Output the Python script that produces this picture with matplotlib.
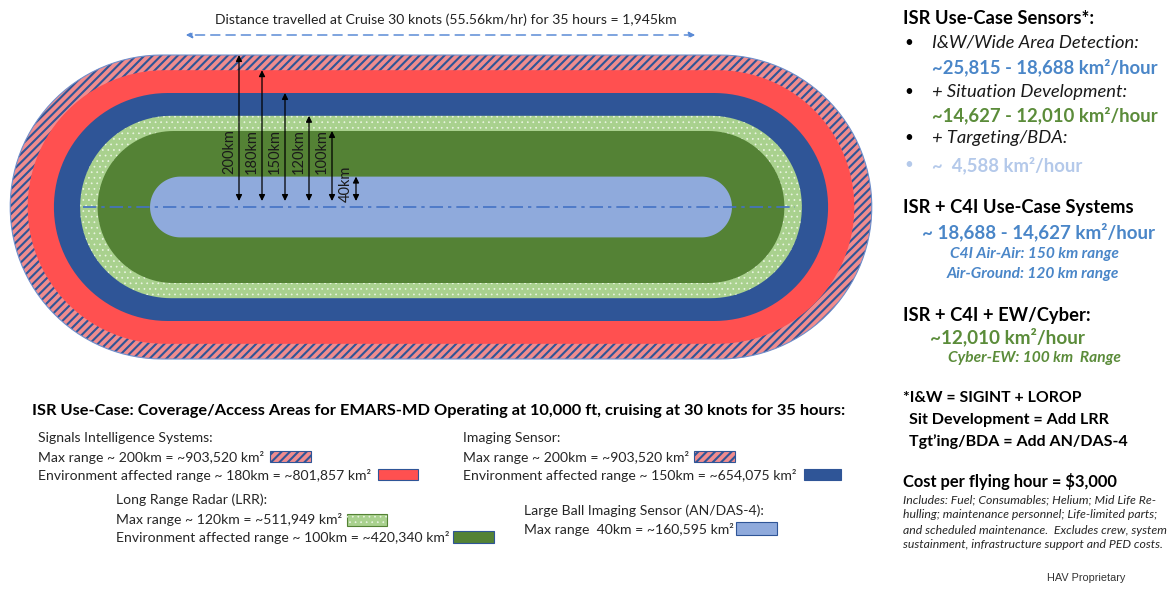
import numpy as np
import matplotlib
matplotlib.use("Agg")
import matplotlib.pyplot as plt

# coverage ranges (km), outermost first
ranges_km = [200, 180, 150, 120, 100, 40]
range_labels = ["200km", "180km", "150km", "120km", "100km", "40km"]
layer_colors = ["#F08C8E", "#FF5050", "#2F5597", "#A9D18E", "#548235", "#8FAADC"]
layer_hatch = ["////", None, None, "...", None, None]
layer_hatch_color = ["#2F5597", None, None, "#EAF4E2", None, None]
layer_hatch_lw = [1.5, None, None, 0.5, None, None]

distance_text = "Distance travelled at Cruise 30 knots (55.56km/hr) for 35 hours = 1,945km"
legend_title = ("ISR Use-Case: Coverage/Access Areas for EMARS-MD Operating at 10,000 ft, "
                "cruising at 30 knots for 35 hours:")

sigint_lines = ["Signals Intelligence Systems:",
                "Max range ~ 200km = ~903,520 km²",
                "Environment affected range ~ 180km = ~801,857 km²"]
imaging_lines = ["Imaging Sensor:",
                 "Max range ~ 200km = ~903,520 km²",
                 "Environment affected range ~ 150km = ~654,075 km²"]
lrr_lines = ["Long Range Radar (LRR):",
             "Max range ~ 120km = ~511,949 km²",
             "Environment affected range ~ 100km = ~420,340 km²"]
ball_lines = ["Large Ball Imaging Sensor (AN/DAS-4):",
              "Max range  40km = ~160,595 km²"]

notes = ["Includes: Fuel; Consumables; Helium; Mid Life Re-",
         "hulling; maintenance personnel; Life-limited parts;",
         "and scheduled maintenance.  Excludes crew, system",
         "sustainment, infrastructure support and PED costs."]

plt.rcParams["font.family"] = ["Lato", "DejaVu Sans"]

BLUE = "#4A86C8"
GREEN = "#5B8C3A"
LIGHT = "#B4C9EA"


def stadium(cx, cy, half_len, r, n=60):
    t1 = np.linspace(-np.pi / 2, np.pi / 2, n)
    right = np.column_stack([cx + half_len + r * np.cos(t1), cy + r * np.sin(t1)])
    t2 = np.linspace(np.pi / 2, 3 * np.pi / 2, n)
    left = np.column_stack([cx - half_len + r * np.cos(t2), cy + r * np.sin(t2)])
    return np.vstack([right, left])


fig = plt.figure(figsize=(11.71, 6), dpi=100)
ax = fig.add_axes([0, 0, 1, 1])
ax.set_xlim(0, 1171)
ax.set_ylim(600, 0)
ax.axis("off")

cx, cy = 441, 207
px_per_km = 0.76

for i, (km, col, h, hc, hlw) in enumerate(zip(ranges_km, layer_colors, layer_hatch,
                                               layer_hatch_color, layer_hatch_lw)):
    r = km * px_per_km
    pts = stadium(cx, cy, 256 + 0.15 * r, r)
    z = 2 + 0.1 * i
    ax.add_patch(plt.Polygon(pts, closed=True, facecolor=col, lw=0, zorder=z))
    if h:
        plt.rcParams["hatch.linewidth"] = hlw
        ax.add_patch(plt.Polygon(pts, closed=True, facecolor="none", edgecolor=hc,
                                 hatch=h, lw=0, zorder=z + 0.05))
    if i == 0:
        ax.add_patch(plt.Polygon(pts, closed=True, facecolor="none", edgecolor="#6F8FCC",
                                 lw=0.8, zorder=z + 0.06))

# centreline
ax.plot([83, 795], [cy, cy], color="#4472C4", lw=1.2, ls=(0, (8, 3, 2, 3)), zorder=3)

# distance arrow
ax.annotate("", xy=(183, 35), xytext=(698, 35),
            arrowprops=dict(arrowstyle="<|-|>", color="#5B8BD6", lw=1.1, ls=(0, (6, 4)),
                            mutation_scale=9), zorder=3)
ax.text(446, 20, distance_text, ha="center", va="center", fontsize=10.1, color="#222222")

# range arrows
arrow_x = [239, 262, 285, 309, 332, 356]
for x, km, lab in zip(arrow_x, ranges_km, range_labels):
    top = cy - km * px_per_km
    ax.annotate("", xy=(x, top), xytext=(x, 201),
                arrowprops=dict(arrowstyle="<|-|>", color="black", lw=0.9,
                                mutation_scale=9, shrinkA=0, shrinkB=0), zorder=4)
    ty = 152 if km > 40 else 184
    ax.text(x - 10, ty, lab, rotation=90, ha="center", va="center", fontsize=10.5,
            color="#1a1a1a", zorder=4)

# legend block
ax.text(32, 411, legend_title, ha="left", va="center", fontsize=11.8,
        fontweight="bold", color="black")


def text_block(x, ys, lines):
    for y, s in zip(ys, lines):
        ax.text(x, y, s, ha="left", va="center", fontsize=10.1, color="#262626")


text_block(38, [438, 457, 475], sigint_lines)
text_block(463, [438, 457, 475], imaging_lines)
text_block(116, [500, 519, 537], lrr_lines)
text_block(524, [511, 529], ball_lines)


def swatch(x0, x1, y0, y1, i):
    ax.add_patch(plt.Rectangle((x0, y0), x1 - x0, y1 - y0, facecolor=layer_colors[i],
                               edgecolor="#2F5597" if i != 3 else "#548235", lw=0.8, zorder=3))
    if layer_hatch[i]:
        plt.rcParams["hatch.linewidth"] = layer_hatch_lw[i]
        ax.add_patch(plt.Rectangle((x0, y0), x1 - x0, y1 - y0, facecolor="none",
                                   edgecolor=layer_hatch_color[i], hatch=layer_hatch[i],
                                   lw=0, zorder=3.1))


swatch(270, 311, 451, 462, 0)
swatch(378, 418, 469, 480, 1)
swatch(694, 735, 451, 462, 0)
swatch(804, 841, 469, 480, 2)
swatch(347, 387, 514, 526, 3)
swatch(453, 494, 531, 543, 4)
swatch(736, 777, 522, 535, 5)

# right panel
RX = 903
ax.text(RX, 18, "ISR Use-Case Sensors*:", fontsize=13.2, fontweight="bold", va="center")
bullets = [(43, "I&W/Wide Area Detection:"), (92, "+ Situation Development:"),
           (138, "+ Targeting/BDA:")]
for y, s in bullets:
    ax.text(RX + 1, y, "•", fontsize=11, va="center")
    ax.text(932, y, s, fontsize=13.2, style="italic", va="center", color="#1a1a1a")
ax.text(932, 67, "~25,815 - 18,688 km²/hour", fontsize=13.3, fontweight="bold",
        color=BLUE, va="center")
ax.text(932, 115, "~14,627 - 12,010 km²/hour", fontsize=13.3, fontweight="bold",
        color=GREEN, va="center")
ax.text(RX + 1, 165, "•", fontsize=11, va="center", color=LIGHT)
ax.text(932, 165, "~  4,588 km²/hour", fontsize=13.3, fontweight="bold",
        color=LIGHT, va="center")

ax.text(RX, 207, "ISR + C4I Use-Case Systems", fontsize=13.2, fontweight="bold", va="center")
ax.text(922, 232, "~ 18,688 - 14,627 km²/hour", fontsize=13.5, fontweight="bold",
        color=BLUE, va="center")
ax.text(950, 254, "C4I Air-Air: 150 km range", fontsize=11.2, fontweight="bold",
        style="italic", color=BLUE, va="center")
ax.text(947, 274, "Air-Ground: 120 km range", fontsize=11.2, fontweight="bold",
        style="italic", color=BLUE, va="center")

ax.text(RX, 315, "ISR + C4I + EW/Cyber:", fontsize=13.2, fontweight="bold", va="center")
ax.text(930, 337, "~12,010 km²/hour", fontsize=13.6, fontweight="bold",
        color=GREEN, va="center")
ax.text(948, 358, "Cyber-EW: 100 km  Range", fontsize=11.2, fontweight="bold",
        style="italic", color=GREEN, va="center")

ax.text(RX, 398, "*I&W = SIGINT + LOROP", fontsize=11.4, fontweight="bold", va="center")
ax.text(909, 420, "Sit Development = Add LRR", fontsize=11.6, fontweight="bold", va="center")
ax.text(909, 442, "Tgt\u2019ing/BDA = Add AN/DAS-4", fontsize=11.5, fontweight="bold",
        va="center")
ax.text(RX, 482, "Cost per flying hour = $3,000", fontsize=11.9, fontweight="bold",
        va="center")
for i, s in enumerate(notes):
    ax.text(RX, 500 + 15 * i, s, fontsize=8.8, style="italic", va="center", color="#262626")

ax.text(1047, 578, "HAV Proprietary", fontsize=7.8, va="center", color="#333333",
        family=["Liberation Sans", "DejaVu Sans"])

fig.savefig("out.png", dpi=100)
